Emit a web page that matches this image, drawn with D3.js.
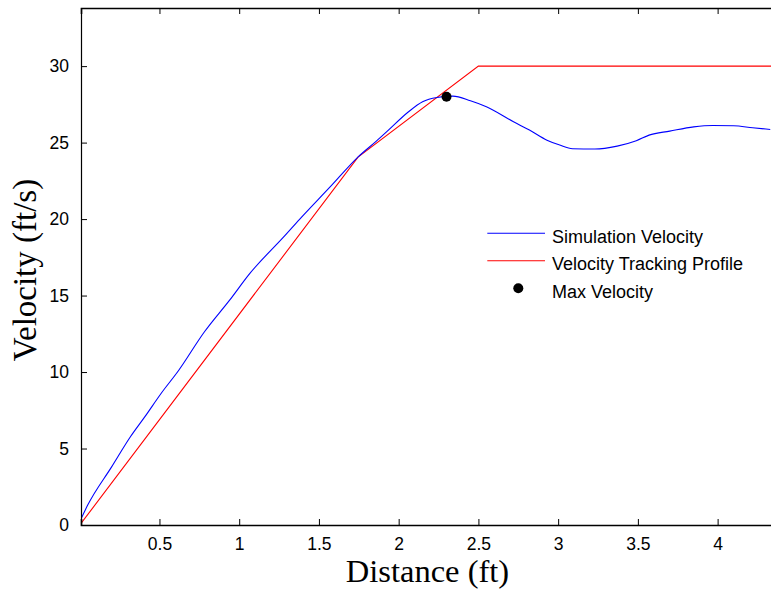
<!DOCTYPE html>
<html>
<head>
<meta charset="utf-8">
<script src="https://cdn.jsdelivr.net/npm/d3@7"></script>
<style>
	body { margin: 0; background: #fff; }
	svg { display: block; }
</style>
</head>
<body>
<svg width="771" height="594"></svg>
<script>
// values
var xTicks = [0.5, 1, 1.5, 2, 2.5, 3, 3.5, 4]
var yTicks = [0, 5, 10, 15, 20, 25, 30]

var simDistance = [0.01, 0.05, 0.2, 0.32, 0.41, 0.51, 0.62, 0.78, 0.94, 1.067, 1.276, 1.38, 1.57, 1.746, 1.86, 1.934,
	2.06, 2.15, 2.24, 2.34, 2.45, 2.55, 2.72, 2.82, 2.93, 3.01, 3.09, 3.23, 3.37, 3.49, 3.57, 3.70, 3.85, 3.97, 4.10, 4.22, 4.33]
var simVelocity = [0.44, 1.3, 3.8, 5.8, 7.1, 8.6, 10.1, 12.6, 14.7, 16.45, 18.8, 20.0, 22.1, 24.07, 25.1, 25.8,
	27.0, 27.67, 27.95, 28.04, 27.73, 27.34, 26.36, 25.82, 25.16, 24.84, 24.6, 24.58, 24.77, 25.12, 25.49, 25.75, 26.03, 26.12, 26.1, 25.97, 25.86]

var profileDistance = [0.008, 1.745, 2.5, 4.341]
var profileVelocity = [0.1, 24.05, 30, 30]

var maxDistance = [2.30]
var maxVelocity = [28.0]

var legendLabels = ["Simulation Velocity", "Velocity Tracking Profile", "Max Velocity"]

var svg = d3.select("svg")
var boxLeft = 81, boxRight = 772, boxTop = 8, boxBottom = 525

var x = d3.scaleLinear().domain([0.008, 4.341]).range([boxLeft, boxRight])
var y = d3.scaleLinear().domain([0, 33.8]).range([boxBottom, boxTop])

var tickFont = "'Liberation Sans', Arial, sans-serif"
var labelFont = "'Liberation Serif', 'Times New Roman', serif"

function line(xs, ys, curve) {
	return d3.line()
		.x((d, i) => x(xs[i]))
		.y((d, i) => y(ys[i]))
		.curve(curve)(xs)
}

// data lines (clipped to the box)
svg.append("clipPath").attr("id", "clip")
	.append("rect").attr("x", boxLeft).attr("y", boxTop).attr("width", boxRight - boxLeft).attr("height", boxBottom - boxTop)

var plot = svg.append("g").attr("clip-path", "url(#clip)")

plot.append("path")
	.attr("d", line(profileDistance, profileVelocity, d3.curveLinear))
	.style("fill", "none").style("stroke", "#ff0000").style("stroke-width", 1.1)

plot.append("path")
	.attr("d", line(simDistance, simVelocity, d3.curveMonotoneX))
	.style("fill", "none").style("stroke", "#0000ff").style("stroke-width", 1.1)

plot.selectAll("circle.max").data(maxDistance).enter().append("circle")
	.attr("class", "max")
	.attr("cx", (d) => x(d))
	.attr("cy", (d, i) => y(maxVelocity[i]))
	.attr("r", 5)
	.style("fill", "#000")

// axes: bottom + left with inward ticks, top mirrored
var xAxis = d3.axisBottom(x).tickValues(xTicks).tickSize(-6).tickPadding(13).tickFormat(d3.format("~g"))
var yAxis = d3.axisLeft(y).tickValues(yTicks).tickSize(-6).tickPadding(12).tickFormat(d3.format("~g"))
var xTop = d3.axisTop(x).tickValues(xTicks).tickSize(-6).tickFormat("")

var gx = svg.append("g").attr("transform", "translate(0," + boxBottom + ")").call(xAxis)
var gy = svg.append("g").attr("transform", "translate(" + boxLeft + ",0)").call(yAxis)
var gt = svg.append("g").attr("transform", "translate(0," + boxTop + ")").call(xTop)

;[gx, gy, gt].forEach(function(g) {
	g.select(".domain").style("stroke", "#000").style("stroke-width", 1.6)
	g.selectAll(".tick line").style("stroke", "#000").style("stroke-width", 1)
	g.selectAll(".tick text")
		.style("font-family", tickFont)
		.style("font-size", "17.5px")
		.style("fill", "#000")
})
gy.select(".domain").style("stroke-width", 1.2)

// axis titles
svg.append("text")
	.attr("x", 427.5).attr("y", 582)
	.attr("text-anchor", "middle")
	.style("font-family", labelFont).style("font-size", "32.5px")
	.text("Distance (ft)")

svg.append("text")
	.attr("transform", "translate(36,270) rotate(-90)")
	.attr("text-anchor", "middle")
	.style("font-family", labelFont).style("font-size", "33px")
	.text("Velocity (ft/s)")

// legend
var legend = svg.append("g")
var rowY = [233.3, 260.8, 288.3]
var legendColors = ["#0000ff", "#ff0000", "#000"]

legendLabels.forEach(function(label, i) {
	if (i < 2) {
		legend.append("line")
			.attr("x1", 487.3).attr("x2", 545)
			.attr("y1", rowY[i]).attr("y2", rowY[i])
			.style("stroke", legendColors[i]).style("stroke-width", 1.1)
	} else {
		legend.append("circle")
			.attr("cx", 518.3).attr("cy", rowY[i]).attr("r", 5)
			.style("fill", legendColors[i])
	}
	legend.append("text")
		.attr("x", 552).attr("y", rowY[i] + 9.5)
		.style("font-family", tickFont).style("font-size", "18px")
		.text(label)
})
</script>
</body>
</html>
